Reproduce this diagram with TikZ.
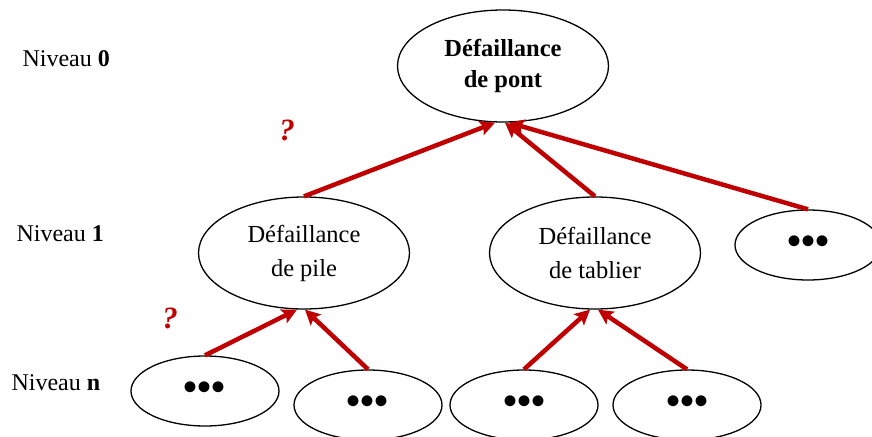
\documentclass[tikz,border=0pt]{standalone}
\usepackage{fontspec}
\setmainfont{Liberation Serif}
\usetikzlibrary{shapes.geometric,arrows.meta}
\definecolor{darkred}{RGB}{192,0,0}
\begin{document}
\begin{tikzpicture}
        [x=1pt, y=-1pt,
        node/.style={ellipse, draw, line width=1.3pt, inner sep=0pt, align=center, font=\fontsize{24.5}{34}\selectfont},
        big/.style={node, minimum width=211pt, minimum height=112pt},
        small/.style={node, minimum width=148pt, minimum height=70pt, font=\fontsize{40}{40}\selectfont\bfseries},
        edge/.style={darkred, line width=4.5pt, -{Stealth[length=15pt, width=15pt, inset=3pt]}},
        level/.style={anchor=west, font=\fontsize{24}{26}\selectfont},
        quest/.style={darkred, font=\fontsize{31}{31}\selectfont\bfseries\itshape}]

        \useasboundingbox (0,0) rectangle (872,436);

        \node[big, font=\fontsize{24.5}{31}\selectfont\bfseries] (pont) at (503,66) {Défaillance\\de pont};
        \node[big] (pile) at (304,253) {Défaillance\\de pile};
        \node[big] (tablier) at (595,253) {Défaillance\\de tablier};
        \node[small, minimum width=146pt] (d0) at (808,245) {•••};

        \node[small] (d1) at (205,391) {•••};
        \node[small] (d2) at (368,405) {•••};
        \node[small] (d3) at (524,405) {•••};
        \node[small] (d4) at (687,405) {•••};

        \node[level] (n0) at (19,59) {Niveau \textbf{0}};
        \node[level] (n1) at (13,234) {Niveau \textbf{1}};
        \node[level] (nn) at (8,383) {Niveau \textbf{n}};

        \node[quest] (q1) at (287,130) {?};
        \node[quest] (q2) at (170,318) {?};

        \draw[edge] (pile.north) -- ([xshift=-8pt]pont.south);
        \draw[edge] (tablier.north) -- ([xshift=2pt]pont.south);
        \draw[edge] (d0.north) -- ([xshift=6pt]pont.south);

        \draw[edge] (d1.north) -- ([xshift=-7pt]pile.south);
        \draw[edge] (d2.north) -- ([xshift=1pt]pile.south);
        \draw[edge] (d3.north) -- ([xshift=-5pt]tablier.south);
        \draw[edge] (d4.north) -- ([xshift=3pt]tablier.south);

    \end{tikzpicture}
\end{document}
